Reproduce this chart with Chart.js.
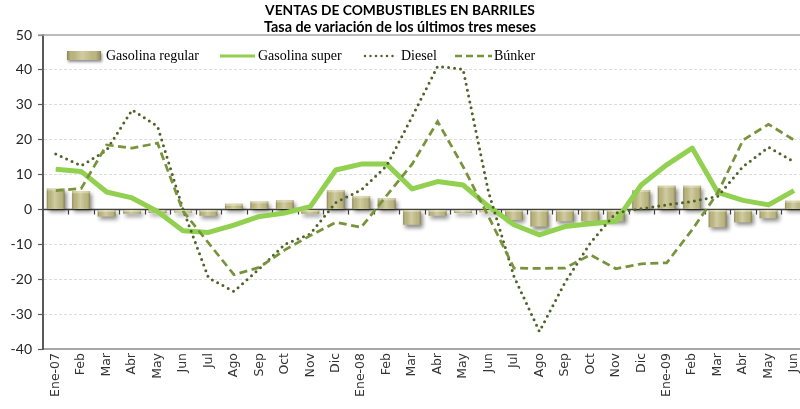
<!DOCTYPE html>
<html><head><meta charset="utf-8">
<script src="https://cdn.jsdelivr.net/npm/chart.js@4/dist/chart.umd.min.js"></script>
<style>
html,body{margin:0;padding:0;background:#fff;overflow:hidden}
#wrap{width:800px;height:409px;overflow:hidden;position:relative}
#box{width:813px;height:409px;position:absolute;left:0;top:0}
</style></head><body>
<div id="wrap"><div id="box"><canvas id="c"></canvas></div></div>
<script>
const categories = ["Ene-07","Feb","Mar","Abr","May","Jun","Jul","Ago","Sep","Oct","Nov","Dic",
  "Ene-08","Feb","Mar","Abr","May","Jun","Jul","Ago","Sep","Oct","Nov","Dic",
  "Ene-09","Feb","Mar","Abr","May","Jun"];
const gasolinaRegular = [6.0,5.2,-2.0,-1.2,-1.0,-0.9,-1.8,1.6,2.3,2.6,-1.2,5.5,
  3.8,3.2,-4.4,-1.8,-1.0,-0.8,-3.0,-4.9,-3.4,-3.4,-3.4,5.6,
  6.8,6.8,-5.1,-3.7,-2.5,2.5];
const gasolinaSuper = [11.5,10.9,5.0,3.3,-0.6,-6.1,-6.6,-4.5,-2.0,-1.0,0.8,11.3,
  13.0,13.0,5.9,8.0,7.0,0.9,-4.4,-7.3,-4.9,-4.1,-3.4,7.0,
  12.8,17.6,4.9,2.6,1.3,5.4];
const diesel = [15.9,12.5,17.0,28.5,23.8,0.0,-19.6,-23.5,-17.0,-10.0,-7.0,2.0,
  5.6,12.5,26.6,41.0,40.2,5.0,-19.2,-35.0,-21.0,-9.6,-1.0,0.2,
  1.3,2.3,3.7,12.3,17.8,13.7];
const bunker = [5.4,6.0,18.5,17.6,19.0,-0.5,-9.6,-18.7,-16.6,-11.6,-7.5,-3.7,
  -5.1,4.0,13.0,25.2,12.3,-2.0,-16.8,-16.9,-16.8,-13.0,-17.0,-15.6,
  -15.3,-5.8,4.7,19.9,24.4,19.9];
const seriesNames = ["Gasolina regular","Gasolina super","Diesel","Búnker"];
const yTicks = {min:-40, max:50, step:10};
const titleText = "VENTAS DE COMBUSTIBLES EN BARRILES";
const subtitleText = "Tasa de variación de los últimos tres meses";

const C_BAR = '#b3ad74', C_SUPER = '#92d050', C_DIESEL = '#4f6228', C_BUNKER = '#77933c';

function barGradient(ctx, left, w){
  const g = ctx.createLinearGradient(left,0,left+w,0);
  g.addColorStop(0,'rgba(95,90,45,0.55)');
  g.addColorStop(0.18,'rgba(255,255,235,0.05)');
  g.addColorStop(0.45,'rgba(255,255,235,0.38)');
  g.addColorStop(0.75,'rgba(255,255,235,0.10)');
  g.addColorStop(1,'rgba(95,90,45,0.55)');
  return g;
}

const deco = {
  id:'deco',
  beforeDatasetsDraw(chart){
    const {ctx, chartArea:a, scales:{x,y}} = chart;
    ctx.save();
    const yt = y.getPixelForValue(yTicks.max);
    ctx.strokeStyle='#a6a6a6'; ctx.lineWidth=1.5;
    ctx.beginPath(); ctx.moveTo(a.left-5, yt); ctx.lineTo(a.right, yt); ctx.stroke();
    const y0 = y.getPixelForValue(0);
    ctx.strokeStyle='#404040'; ctx.lineWidth=1.5;
    ctx.beginPath(); ctx.moveTo(a.left, y0); ctx.lineTo(a.right, y0); ctx.stroke();
    ctx.lineWidth=1.2;
    ctx.beginPath();
    for(let i=1;i<=categories.length;i++){
      const px = Math.round(x.getPixelForValue(i-0.5))+0.5;
      ctx.moveTo(px, y0); ctx.lineTo(px, y0+5);
    }
    ctx.stroke();
    ctx.restore();
  },
  beforeDatasetDraw(chart, args){
    if(args.index===0){
      const ctx=chart.ctx; ctx.save();
      ctx.shadowColor='rgba(0,0,0,0.45)'; ctx.shadowBlur=4; ctx.shadowOffsetX=2; ctx.shadowOffsetY=3;
    }
  },
  afterDatasetDraw(chart, args){
    if(args.index!==0) return;
    const ctx=chart.ctx; ctx.restore();
    ctx.save();
    args.meta.data.forEach(el=>{
      const p = el.getProps(['x','y','base','width'], true);
      const left = p.x - p.width/2, top = Math.min(p.y,p.base), h = Math.abs(p.base-p.y);
      ctx.fillStyle = barGradient(ctx,left,p.width);
      ctx.fillRect(left, top, p.width, h);
      ctx.fillStyle='rgba(255,255,235,0.35)';
      ctx.fillRect(left, top, p.width, Math.min(2,h));
    });
    ctx.restore();
  },
  afterDraw(chart){
    const ctx = chart.ctx;
    ctx.save();
    ctx.fillStyle='#000'; ctx.textAlign='center'; ctx.textBaseline='middle';
    ctx.font='bold 13px Lato';
    let w = ctx.measureText(titleText).width;
    ctx.font = 'bold '+(13*270/w).toFixed(2)+'px Lato';
    ctx.fillText(titleText, 400, 11);
    ctx.font='bold 13px Lato';
    w = ctx.measureText(subtitleText).width;
    ctx.font = 'bold '+(13*272/w).toFixed(2)+'px Lato';
    ctx.fillText(subtitleText, 400, 27);

    // legend
    const ly = 56;
    ctx.textAlign='left';
    ctx.font='14px "Liberation Serif"';
    ctx.save();
    ctx.shadowColor='rgba(0,0,0,0.45)'; ctx.shadowBlur=3; ctx.shadowOffsetX=1; ctx.shadowOffsetY=2;
    ctx.fillStyle=C_BAR; ctx.fillRect(67, ly-5, 34, 9);
    ctx.restore();
    ctx.fillStyle=barGradient(ctx,67,34); ctx.fillRect(67, ly-5, 34, 9);
    ctx.fillStyle='#000';
    ctx.fillText(seriesNames[0], 106, ly);
    ctx.lineWidth=3; ctx.strokeStyle=C_SUPER; ctx.lineCap='butt';
    ctx.beginPath(); ctx.moveTo(220, ly); ctx.lineTo(255, ly); ctx.stroke();
    ctx.fillText(seriesNames[1], 258, ly);
    ctx.strokeStyle=C_DIESEL; ctx.lineWidth=2.5; ctx.lineCap='round'; ctx.setLineDash([0,5.5]);
    ctx.beginPath(); ctx.moveTo(365, ly); ctx.lineTo(396, ly); ctx.stroke();
    ctx.fillText(seriesNames[2], 401, ly);
    ctx.strokeStyle=C_BUNKER; ctx.lineWidth=2.5; ctx.lineCap='butt'; ctx.setLineDash([7,4]);
    ctx.beginPath(); ctx.moveTo(455, ly); ctx.lineTo(492, ly); ctx.stroke();
    ctx.setLineDash([]);
    ctx.fillText(seriesNames[3], 494, ly);
    ctx.restore();
  }
};

new Chart(document.getElementById('c'), {
  data:{
    labels: categories,
    datasets:[
      {type:'bar', label:seriesNames[0], data:gasolinaRegular, backgroundColor:C_BAR, borderWidth:0,
        barPercentage:0.7, categoryPercentage:1.0, order:4},
      {type:'line', label:seriesNames[1], data:gasolinaSuper, borderColor:C_SUPER, borderWidth:5,
        pointRadius:0, tension:0, fill:false, order:3, borderJoinStyle:'round'},
      {type:'line', label:seriesNames[2], data:diesel, borderColor:C_DIESEL, borderWidth:3,
        borderDash:[0,6], borderCapStyle:'round', pointRadius:0, tension:0, fill:false, order:2},
      {type:'line', label:seriesNames[3], data:bunker, borderColor:C_BUNKER, borderWidth:2.75,
        borderDash:[8,4.5], pointRadius:0, tension:0, fill:false, order:1}
    ]
  },
  options:{
    responsive:true, maintainAspectRatio:false, animation:false,
    layout:{padding:{top:35,left:0,right:0,bottom:0}},
    plugins:{legend:{display:false}, tooltip:{enabled:false}, title:{display:false}},
    scales:{
      x:{type:'category', offset:true,
        grid:{display:false, drawTicks:false},
        border:{display:true, color:'#a6a6a6', width:2},
        ticks:{autoSkip:false, minRotation:90, maxRotation:90, padding:4,
          color:'#333333', font:{family:'"DejaVu Sans"', size:12.5}},
        afterFit(s){ s.height = 60; }
      },
      y:{min:yTicks.min, max:yTicks.max,
        ticks:{stepSize:yTicks.step, padding:6, color:'#262626', font:{family:'Lato', size:14}},
        grid:{color:(c)=> (c.tick && (c.tick.value===0 || c.tick.value===yTicks.max)) ? 'rgba(0,0,0,0)' : '#dcdcdc',
          lineWidth:1, tickLength:5, tickColor:'#595959', tickWidth:1.2},
        border:{display:true, color:'#595959', width:2, dash:[3,2]},
        afterFit(s){ s.width = 43; }
      }
    }
  },
  plugins:[deco]
});
</script>
</body></html>
